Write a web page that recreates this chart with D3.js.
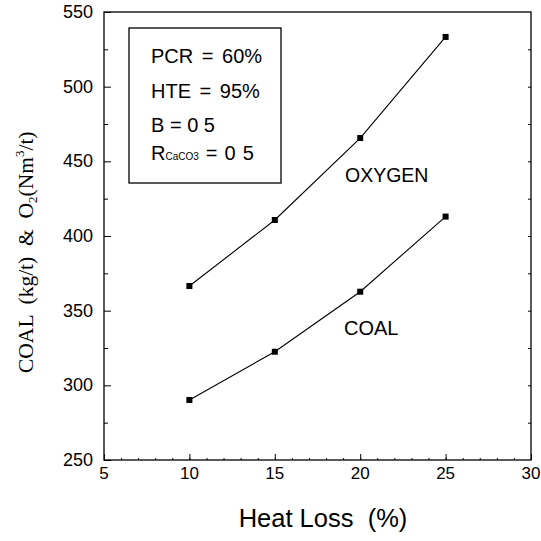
<!DOCTYPE html>
<html><head><meta charset="utf-8">
<script src="https://cdn.jsdelivr.net/npm/d3@7"></script>
<style>body{margin:0;background:#fff}text{fill:#000;white-space:pre}</style>
</head><body><svg id="c" width="541" height="541"></svg>
<script>
const heatLoss = [10, 15, 20, 25];
const oxygen = [366.5, 410.7, 465.6, 533.3];
const coal = [290.2, 322.5, 362.7, 413];
const xTicks = [5, 10, 15, 20, 25, 30];
const yTicks = [250, 300, 350, 400, 450, 500, 550];
const legendLines = ["PCR = 60%", "HTE = 95%", "B = 0 5"];

const svg = d3.select("#c");
const L = 104, R = 531, T = 12, B = 460;
const x = d3.scaleLinear().domain([5, 30]).range([L, R]);
const y = d3.scaleLinear().domain([250, 550]).range([B, T]);
const sans = "Liberation Sans, Arial, sans-serif";

// frame
svg.append("rect").attr("x", L).attr("y", T).attr("width", R - L).attr("height", B - T)
  .attr("fill", "none").attr("stroke", "#000").attr("stroke-width", 1.3);

// axes with inward ticks
const gx = svg.append("g").attr("transform", `translate(0,${B})`)
  .call(d3.axisTop(x).tickValues(xTicks).tickSize(6).tickFormat(""));
const gx2 = svg.append("g").attr("transform", `translate(0,${B})`)
  .call(d3.axisTop(x).tickValues(d3.range(6, 30, 1)).tickSize(2).tickFormat(""));
const gy = svg.append("g").attr("transform", `translate(${L},0)`)
  .call(d3.axisRight(y).tickValues(yTicks).tickSize(7).tickFormat(""));
const gy2 = svg.append("g").attr("transform", `translate(${L},0)`)
  .call(d3.axisRight(y).tickValues(d3.range(275, 550, 50)).tickSize(4).tickFormat(""));
const gyr = svg.append("g").attr("transform", `translate(${R},0)`)
  .call(d3.axisLeft(y).tickValues(d3.range(275, 550, 25)).tickSize(3).tickFormat(""));
[gx, gx2, gy, gy2, gyr].forEach(g => { g.select(".domain").remove(); g.selectAll("line").attr("stroke", "#000"); });

// tick labels
svg.append("g").selectAll("text").data(xTicks).join("text")
  .attr("x", d => x(d)).attr("y", 479).attr("text-anchor", "middle")
  .attr("font-family", sans).attr("font-size", 17).text(d => d);
svg.append("g").selectAll("text").data(yTicks).join("text")
  .attr("x", 93).attr("y", d => y(d) + 6).attr("text-anchor", "end")
  .attr("font-family", sans).attr("font-size", 18).text(d => d);

// axis titles
svg.append("text").attr("x", 323).attr("y", 527).attr("text-anchor", "middle")
  .attr("font-family", sans).attr("font-size", 25.5).text("Heat Loss  (%)");
const yl = svg.append("text").attr("transform", "translate(33,373) rotate(-90)")
  .attr("text-anchor", "start").attr("font-family", "Liberation Serif, Times New Roman, serif")
  .attr("font-size", 21.5);
yl.append("tspan").text("COAL  (kg/t)  &  O");
yl.append("tspan").attr("font-size", 13).attr("dy", 4).text("2");
yl.append("tspan").attr("dy", -4).text("(Nm");
yl.append("tspan").attr("font-size", 13).attr("dy", -9).text("3");
yl.append("tspan").attr("dy", 9).text("/t)");

// lines
const line = d3.line().x((d, i) => x(heatLoss[i])).y(d => y(d));
[oxygen, coal].forEach(s => {
  svg.append("path").attr("d", line(s)).attr("fill", "none").attr("stroke", "#000").attr("stroke-width", 1.1);
  svg.append("g").selectAll("rect").data(s).join("rect")
    .attr("x", (d, i) => x(heatLoss[i]) - 3).attr("y", d => y(d) - 3)
    .attr("width", 6).attr("height", 6).attr("fill", "#000");
});

svg.append("text").attr("x", 345).attr("y", 182).attr("font-family", sans).attr("font-size", 19.5).text("OXYGEN");
svg.append("text").attr("x", 344).attr("y", 335).attr("font-family", sans).attr("font-size", 20).text("COAL");

// legend box
svg.append("rect").attr("x", 129).attr("y", 28).attr("width", 152).attr("height", 155)
  .attr("fill", "#fff").attr("stroke", "#000").attr("stroke-width", 1.3);
svg.append("g").selectAll("text").data(legendLines).join("text")
  .attr("x", 151).attr("y", (d, i) => 63 + i * 34.5)
  .attr("font-family", sans).attr("font-size", 20).attr("word-spacing", (d, i) => i < 2 ? 3 : 0).text(d => d);
const rt = svg.append("text").attr("x", 151).attr("y", 160).attr("font-family", sans).attr("font-size", 20).attr("word-spacing", 1.5);
rt.append("tspan").text("R");
rt.append("tspan").attr("font-size", 10).text("CaCO3");
rt.append("tspan").text(" = 0 5");
</script></body></html>
